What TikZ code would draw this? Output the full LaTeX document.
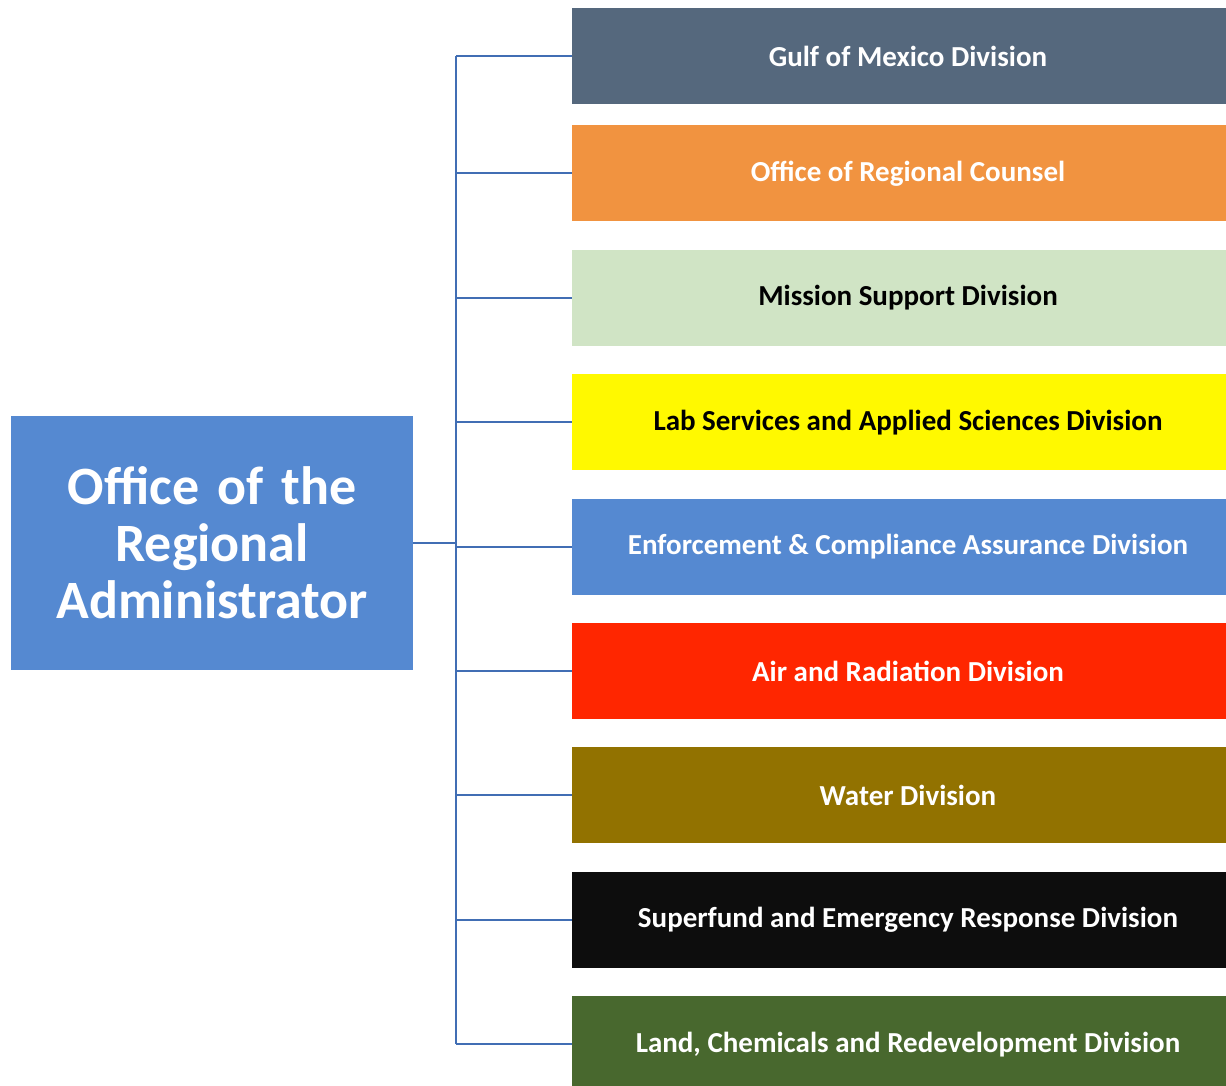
\documentclass[tikz,border=0pt]{standalone}
\usepackage{fontspec}
\setmainfont{Carlito}
\usetikzlibrary{positioning}

\definecolor{slateblue}{RGB}{85,104,125}
\definecolor{counselorange}{RGB}{241,147,64}
\definecolor{palegreen}{RGB}{208,228,197}
\definecolor{labyellow}{RGB}{255,249,0}
\definecolor{officeblue}{RGB}{85,137,209}
\definecolor{airred}{RGB}{255,38,0}
\definecolor{waterbrown}{RGB}{146,114,0}
\definecolor{sfblack}{RGB}{13,13,13}
\definecolor{landgreen}{RGB}{72,104,46}
\definecolor{linkblue}{RGB}{65,110,180}

\begin{document}
\begin{tikzpicture}[
x=1pt, y=-1pt,
node distance=28pt,
divbox/.style={rectangle, minimum width=672pt, minimum height=96pt, inner sep=0pt, text=white, font=\bfseries\fontsize{29}{34}\selectfont},
topbox/.style={rectangle, fill=officeblue, minimum width=402pt, minimum height=254pt, text width=390pt, align=center, text=white, font=\bfseries\fontsize{54}{57}\selectfont},
link/.style={draw=linkblue, line width=2pt},
]
\useasboundingbox (0,0) rectangle (1226,1086);

\node[topbox]      (ora)        at (212,543) {Office of the\\Regional\\Administrator};

\node[divbox, fill=slateblue]     (gulf)       at (908,56)          {Gulf of Mexico Division};
\node[divbox, fill=counselorange] (counsel)    [below=21pt of gulf] {Office of Regional Counsel};
\node[divbox, fill=palegreen, text=black]  (mission)    [below=of counsel]   {Mission Support Division};
\node[divbox, fill=labyellow, text=black]  (lab)        [below=of mission]   {Lab Services and Applied Sciences Division};
\node[divbox, fill=officeblue]    (enforce)    [below=of lab]       {Enforcement \& Compliance Assurance Division};
\node[divbox, fill=airred]        (air)        [below=of enforce]   {Air and Radiation Division};
\node[divbox, fill=waterbrown]    (water)      [below=of air]       {Water Division};
\node[divbox, fill=sfblack]       (superfund)  [below=of water]     {Superfund and Emergency Response Division};
\node[divbox, fill=landgreen]     (land)       [below=of superfund] {Land, Chemicals and Redevelopment Division};

\coordinate (spine) at (456,543);

%Lines
\draw[link] (ora.east) -- (spine);
\draw[link] (spine |- gulf.west) -- (spine |- land.west);
\foreach \div in {gulf, counsel, mission, lab, enforce, air, water, superfund, land}
  \draw[link] (spine |- \div.west) -- (\div.west);
\end{tikzpicture}
\end{document}
